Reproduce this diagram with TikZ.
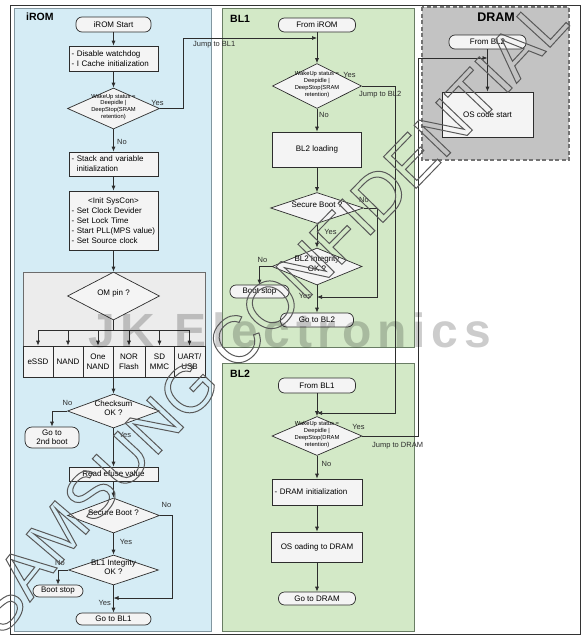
\documentclass[tikz,border=0pt]{standalone}
\usepackage{fontspec}
\setmainfont{Liberation Sans}
\usetikzlibrary{shapes.geometric,arrows.meta,decorations.text}
\definecolor{iromfill}{RGB}{213,236,245}
\definecolor{iromline}{RGB}{130,150,160}
\definecolor{blfill}{RGB}{211,233,199}
\definecolor{blline}{RGB}{105,125,100}
\definecolor{dramfill}{RGB}{195,195,195}
\definecolor{dramline}{RGB}{115,115,115}
\definecolor{nodefill}{RGB}{244,244,244}
\definecolor{omfill}{RGB}{236,236,236}
\definecolor{ink}{RGB}{45,45,45}
\makeatletter
\newcommand\wmoutline{\pgfsys@invoke{1 Tr}}
\makeatother
\newcommand\dtext[1]{\smash{\makebox[0pt]{\begin{tabular}{@{}c@{}}#1\end{tabular}}}}
\tikzset{
  conn/.style={draw=ink, line width=0.7pt},
  arr/.style={conn, -{Latex[length=5pt,width=4pt]}},
  box/.style={draw=ink, line width=0.7pt, fill=nodefill, inner sep=0pt, font=\fontsize{8}{10}\selectfont},
  lbox/.style={box, align=left, inner xsep=2.5pt},
  term/.style={box, rounded corners=6pt},
  dia/.style={diamond, draw=ink, line width=0.7pt, fill=nodefill, inner sep=0pt, font=\fontsize{8}{9.5}\selectfont},
  wake/.style={dia, font=\fontsize{5.8}{6.8}\selectfont},
  lbl/.style={inner sep=0pt, font=\fontsize{7.5}{9}\selectfont, text=ink},
  ttl/.style={inner sep=0pt, anchor=west, font=\bfseries\fontsize{10.5}{12}\selectfont},
}
\begin{document}
\begin{tikzpicture}[x=1pt,y=-1pt]
\useasboundingbox (0,0) rectangle (587,640);
% frame and panels
\draw[line width=0.9pt, black!80] (10,5) rectangle (580,634);
\draw[fill=iromfill, draw=iromline, line width=0.8pt] (14,8) rectangle (211,631);
\draw[fill=blfill, draw=blline, line width=0.8pt] (222,8) rectangle (414,347);
\draw[fill=blfill, draw=blline, line width=0.8pt] (222,363) rectangle (414,631);
\draw[fill=dramfill, draw=dramline, line width=1.1pt, dash pattern=on 4pt off 2.5pt] (422,7) rectangle (569,160);
\node[ttl] (tirom) at (26,17) {iROM};
\node[ttl] (tbl1) at (230,19) {BL1};
\node[ttl] (tbl2) at (230,374) {BL2};
\node[ttl, anchor=center, font=\bfseries\fontsize{12.5}{14}\selectfont] (tdram) at (496,17) {DRAM};

% ---------------- iROM
\node[term, minimum width=75pt, minimum height=15pt] (irs) at (113.5,24.5) {iROM Start};
\node[lbox, minimum width=89pt, minimum height=25pt, text width=84pt] (wd) at (113.5,58.5) {- Disable watchdog\\- I Cache initialization};
\node[wake, minimum width=92pt, minimum height=41pt] (wk1) at (113.5,108.5) {\dtext{WakeUp status =\\Deepidle |\\DeepStop(SRAM\\retention)}};
\node[lbox, minimum width=89pt, minimum height=24pt, text width=84pt] (sv) at (113.5,164) {- Stack and variable\\\hphantom{- }initialization};
\node[lbox, minimum width=89pt, minimum height=59pt, text width=84pt] (sc) at (113.5,220.5) {\makebox[84pt]{<Init SysCon>}\\- Set Clock Devider\\- Set Lock Time\\- Start PLL(MPS value)\\- Set Source clock};
\node[draw=ink!70, fill=omfill, line width=0.7pt, minimum width=182pt, minimum height=105pt, inner sep=0pt] (omreg) at (114,324.5) {};
\node[dia, minimum width=92pt, minimum height=48pt] (omd) at (113.5,296) {\dtext{OM pin ?}};
\node[box, align=center, minimum width=30pt, minimum height=31pt] (essd) at (38,361.5) {eSSD};
\node[box, align=center, minimum width=30pt, minimum height=31pt] (nand) at (68,361.5) {NAND};
\node[box, align=center, minimum width=30pt, minimum height=31pt] (onand) at (98,361.5) {One\\NAND};
\node[box, align=center, minimum width=32pt, minimum height=31pt] (nor) at (129,361.5) {NOR\\Flash};
\node[box, align=center, minimum width=29pt, minimum height=31pt] (sd) at (159.5,361.5) {SD\\MMC};
\node[box, align=center, minimum width=31pt, minimum height=31pt] (uart) at (189.5,361.5) {UART/\\USB};
\node[dia, minimum width=92pt, minimum height=34pt] (ck) at (113.5,411) {\dtext{Checksum\\OK ?}};
\node[term, align=center, rounded corners=7pt, minimum width=54pt, minimum height=21pt, font=\fontsize{8}{9}\selectfont] (g2) at (52,437.5) {Go to\\2nd boot};
\node[box, minimum width=89pt, minimum height=14pt] (re) at (113.5,474) {Read efuse value};
\node[dia, minimum width=92pt, minimum height=35pt] (sb1) at (113.5,515.5) {\dtext{Secure Boot ?}};
\node[dia, minimum width=90pt, minimum height=30pt] (bi1) at (113.5,570) {\dtext{BL1 Integrity\\OK ?}};
\node[term, minimum width=50pt, minimum height=12pt] (bs1) at (58,591) {Boot stop};
\node[term, minimum width=75pt, minimum height=12pt] (gb1) at (113.5,619) {Go to BL1};

\coordinate (brc) at (113.5,330);
\coordinate (brl) at (38,330);
\coordinate (brr) at (189.5,330);
\coordinate (c1a) at (172,598);
\coordinate (c1b) at (113.5,598);
\coordinate (j1a) at (183,38);
\coordinate (j1b) at (317,38);

\draw[arr] (irs) -- (wd);
\draw[arr] (wd) -- (wk1);
\draw[arr] (wk1) -- (sv);
\draw[arr] (sv) -- (sc);
\draw[arr] (sc) -- (omd);
\draw[conn] (omd.south) -- (brc);
\draw[conn] (brl) -- (brr);
\foreach \n in {essd,nand,onand,nor,sd,uart} \draw[arr] (\n.north |- brc) -- (\n.north);
\draw[arr] (omreg.south -| ck) -- (ck);
\draw[arr] (ck.west) -| (g2.north);
\draw[arr] (ck) -- (re);
\draw[arr] (re) -- (sb1);
\draw[arr] (sb1.east) -| (c1a) -- (c1b);
\draw[arr] (sb1) -- (bi1);
\draw[arr] (bi1.west) -| (bs1.north);
\draw[arr] (bi1) -- (gb1);
\draw[arr] (wk1.east) -| (j1a) -- (j1b);

\node[lbl] (l1) at (157.5,103) {Yes};
\node[lbl, anchor=west] (l2) at (117,142) {No};
\node[lbl, anchor=west] (l3) at (193,45) {Jump to BL1};
\node[lbl] (l4) at (67.5,402.5) {No};
\node[lbl] (l5) at (125,435) {Yes};
\node[lbl] (l6) at (166.5,505) {No};
\node[lbl] (l7) at (126,541.5) {Yes};
\node[lbl] (l8) at (60,562.5) {No};
\node[lbl, anchor=east] (l9) at (111,603) {Yes};

% ---------------- BL1
\node[term, minimum width=77pt, minimum height=14pt] (fi) at (317,25) {From iROM};
\node[wake, minimum width=89pt, minimum height=45pt] (wk2) at (317,86) {\dtext{WakeUp status =\\Deepidle |\\DeepStop(SRAM\\retention)}};
\node[box, minimum width=89pt, minimum height=35pt] (bl2l) at (317,149.5) {BL2 loading};
\node[dia, minimum width=93pt, minimum height=31pt] (sb2) at (317,208) {\dtext{Secure Boot ?}};
\node[dia, minimum width=90pt, minimum height=37pt] (bi2) at (317,266.5) {\dtext{BL2 Integrity\\OK ?}};
\node[term, minimum width=59pt, minimum height=13pt] (bs2) at (259.5,291.5) {Boot stop};
\node[term, minimum width=73pt, minimum height=14pt] (gb2) at (317,320) {Go to BL2};

\coordinate (c2a) at (377,297);
\coordinate (c2b) at (317,297);
\coordinate (j2a) at (395,413);
\coordinate (j2b) at (317,413);

\draw[arr] (fi) -- (wk2);
\draw[arr] (wk2) -- (bl2l);
\draw[arr] (bl2l) -- (sb2);
\draw[arr] (sb2) -- (bi2);
\draw[arr] (bi2.west) -| (bs2.north);
\draw[arr] (bi2) -- (gb2);
\draw[arr] (sb2.east) -| (c2a) -- (c2b);
\draw[arr] (wk2.east) -| (j2a) -- (j2b);

\node[lbl] (l10) at (349.5,75) {Yes};
\node[lbl, anchor=west] (l11) at (359,95) {Jump to BL2};
\node[lbl] (l12) at (324,114.5) {No};
\node[lbl] (l13) at (364,199.5) {No};
\node[lbl] (l14) at (330.5,232) {Yes};
\node[lbl] (l15) at (262.5,260) {No};
\node[lbl] (l16) at (305,295.5) {Yes};

% ---------------- BL2
\node[term, minimum width=77pt, minimum height=15pt] (fb1) at (317,385.5) {From BL1};
\node[wake, minimum width=90pt, minimum height=39pt] (wk3) at (317,436) {\dtext{WakeUp status =\\Deepidle |\\DeepStop(DRAM\\retention)}};
\node[lbox, minimum width=90pt, minimum height=26pt, text width=85pt] (di) at (317,492) {- DRAM initialization};
\node[box, minimum width=91pt, minimum height=30pt] (ol) at (317,547) {OS oading to DRAM};
\node[term, minimum width=77pt, minimum height=13pt] (gd) at (317,598.5) {Go to DRAM};

\coordinate (j3a) at (418,58);
\coordinate (j3b) at (487.5,58);

\draw[arr] (fb1) -- (wk3);
\draw[arr] (wk3) -- (di);
\draw[arr] (di) -- (ol);
\draw[arr] (ol) -- (gd);
\draw[arr] (wk3.east) -| (j3a) -- (j3b);

\node[lbl] (l17) at (358.5,426.5) {Yes};
\node[lbl, anchor=west] (l18) at (372,446) {Jump to DRAM};
\node[lbl] (l19) at (326.5,463.5) {No};

% ---------------- DRAM
\node[term, minimum width=77pt, minimum height=14pt] (fb2) at (487.5,42) {From BL2};
\node[box, minimum width=91pt, minimum height=45pt] (os) at (487.5,114.5) {OS code start};
\draw[arr] (fb2) -- (os);

% ---------------- watermarks
\node[anchor=base west, inner sep=0pt, text=black, text opacity=0.2, font=\bfseries\fontsize{48}{48}\selectfont\addfontfeature{LetterSpace=12}] (jk) at (88,347) {JK Electronics};
\begin{scope}[line width=1pt]
\wmoutline
\path[decorate, decoration={text along path, text color=black!65, text={|\fontsize{66}{66}\selectfont|SAMSUNG CONFIDENTIAL}, text align=left}] (4,638) .. controls (120,470) and (400,220) .. (618,-28);
\end{scope}
\end{tikzpicture}
\end{document}
